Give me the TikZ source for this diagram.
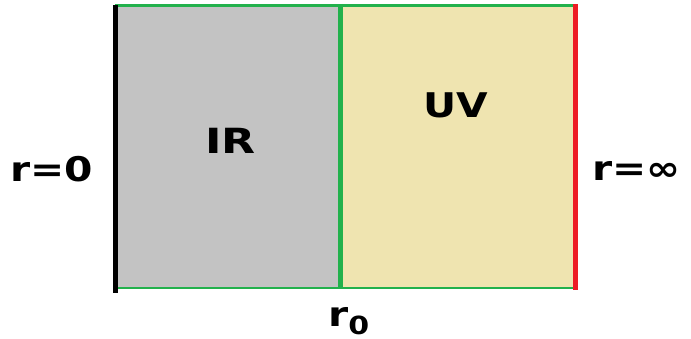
\documentclass[tikz,border=0pt]{standalone}
\usepackage{fontspec}
\setmainfont{DejaVu Sans}
\definecolor{pgreen}{HTML}{22B14C}
\definecolor{pred}{HTML}{ED1C24}
\definecolor{pgray}{HTML}{C3C3C3}
\definecolor{pbeige}{HTML}{EFE4B0}
\tikzset{
  lab/.style={inner sep=0pt, font=\bfseries\fontsize{34}{40}\selectfont},
  wall/.style={line width=5pt},
  edge/.style={line width=3pt, draw=pgreen}
}
\newcommand{\wid}[1]{\scalebox{1.2}[1]{#1}}
\begin{document}
\begin{tikzpicture}[x=1pt,y=-1pt]
\useasboundingbox (0,0) rectangle (691,339);
% regions
\fill[pgray] (116,6) rectangle (340,288);
\fill[pbeige] (340,6) rectangle (575,288);
\coordinate (tl) at (115,5.5);
\coordinate (tr) at (575,5.5);
\coordinate (bl) at (116,288);
\coordinate (br) at (575,288);
\coordinate (mt) at (340.5,4);
\coordinate (mb) at (340.5,288);
% boundary lines
\draw[edge] (tl) -- (tr);
\draw[edge,line width=2.5pt] (bl) -- (br);
\draw[wall,draw=pgreen,line width=4.5pt] (mt) -- (mb);
\draw[wall,draw=black] (115.5,5) -- (115.5,293);
\draw[wall,draw=pred] (575,4.5) -- (575,290);
% labels
\node[lab,anchor=base] (ir) at (230.5,154) {\scalebox{1.3}[1.02]{IR}};
\node[lab,anchor=base] (uv) at (455.5,118) {\wid{UV}};
\node[lab,anchor=base] (r0) at (51.5,182) {\wid{r=0}};
\node[lab,anchor=base west] (rinf) at (592,181) {\wid{r=∞}};
\node[lab,anchor=base west] (rr) at (328,326) {\wid{r}\raisebox{-8pt}{\fontsize{25}{30}\selectfont\wid{0}}};
\end{tikzpicture}
\end{document}
